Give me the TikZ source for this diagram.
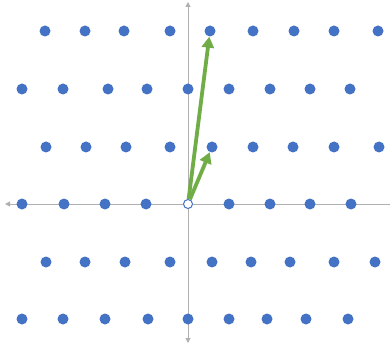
\documentclass[tikz,border=0pt]{standalone}
\usepackage{xcolor}
\usepackage{tikz}
\usetikzlibrary{arrows.meta}
\definecolor{dotblue}{HTML}{4472C4}
\definecolor{vecgreen}{HTML}{70AD47}
\definecolor{axisgray}{HTML}{B0B0B0}

\begin{document}
\begin{tikzpicture}[x=1pt, y=-1pt, dot/.style={circle, fill=dotblue, inner sep=0pt, minimum size=11pt}, orig/.style={circle, draw=dotblue, fill=white, line width=1pt, inner sep=0pt, minimum size=9pt}, axis/.style={axisgray, line width=1pt}, vec/.style={vecgreen, line width=3.8pt, -{Triangle[length=11pt,width=12pt]}}]
\useasboundingbox (0,0) rectangle (390,347);
\coordinate (xl) at (5,204);
\coordinate (xr) at (392,204);
\coordinate (yt) at (188,2);
\coordinate (yb) at (188,343);
\draw[axis,-{Triangle[length=5pt,width=5pt]}] (xr) -- (xl);
\draw[axis,{Triangle[length=5pt,width=5pt]}-{Triangle[length=5pt,width=5pt]}] (yb) -- (yt);
\foreach \x [count=\c] in {45,85,124,170,210,253,294,334,378} \node[dot] (p-1-\c) at (\x,31) {};
\foreach \x [count=\c] in {22,63,108,147,188,229,270,310,350} \node[dot] (p-2-\c) at (\x,89) {};
\foreach \x [count=\c] in {46,86,126,170,212,253,293,334,379} \node[dot] (p-3-\c) at (\x,147) {};
\foreach \x [count=\c] in {22,64,105,146,229,270,310,351} \node[dot] (p-4-\c) at (\x,204) {};
\foreach \x [count=\c] in {46,85,125,170,212,251,290,334,375} \node[dot] (p-5-\c) at (\x,262) {};
\foreach \x [count=\c] in {22,63,105,148,188,229,267,306,348} \node[dot] (p-6-\c) at (\x,319) {};
\node[orig] (o) at (188,204) {};
\draw[vec] (o) -- (p-3-5);
\draw[vec] (o) -- (p-1-5);
\end{tikzpicture}
\end{document}
